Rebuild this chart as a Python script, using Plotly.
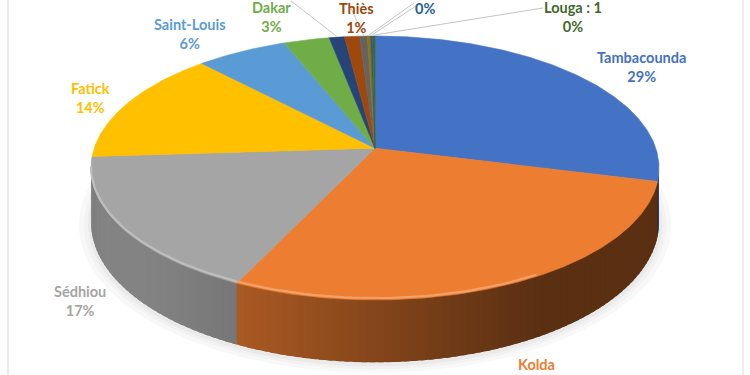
import numpy as np
import plotly.graph_objects as go

# ---------------- data ----------------
regions = ["Tambacounda", "Kolda", "Sédhiou", "Fatick", "Saint-Louis", "Dakar",
           "Ziguinchor", "Thiès", "Kaolack", "Kaffrine", "Matam", "Louga"]
label_names = ["Tambacounda", "Kolda", "Sédhiou", "Fatick", "Saint-Louis", "Dakar",
               "", "Thiès", "", "", "", "Louga : 1"]
shares = [29, 28, 17, 14, 6, 3, 1, 1, 0.5, 0.2, 0.15, 0.15]
colors = ["#4472C4", "#ED7D31", "#A5A5A5", "#FFC000", "#5B9BD5", "#70AD47",
          "#264478", "#9E480E", "#636363", "#997300", "#255E91", "#43682B"]

# label block centres (pixel layout); slices whose labels lie outside the picture have none
label_pos = {
    "Tambacounda": (641, 66.5), "Kolda": (536, 364), "Sédhiou": (80, 300.5),
    "Fatick": (90, 97.5), "Saint-Louis": (190, 33.5), "Dakar": (271, 17),
    "Thiès": (356, 18), "Matam": (425, 8), "Louga": (573, 17),
}
# which parts of each label are inside the picture
show_pct = {"Kolda": False}
# leader line start points (pixel layout)
leader_start = {
    "Ziguinchor": (291, 1), "Kaolack": (349, 4), "Kaffrine": (414, 3),
    "Matam": (416, 6), "Louga": (543, 8),
}

# ---------------- geometry (3-D tilted disc, perspective) ----------------
W, H = 750, 375
CX, CY, A, B, K, T = 375.0, 148.2, 280.8, 129.0, 0.15, 53.0


def proj(theta_deg, depth=0.0, da=0.0, db=0.0):
    th = np.radians(theta_deg)
    u, v = np.sin(th), np.cos(th)
    d = 1 + K * v
    x = CX + (A + da) * u / d
    y = CY - (B + db) * v / d + T * depth / d
    return x, y


def hex2rgb(h):
    h = h.lstrip("#")
    return tuple(int(h[i:i + 2], 16) for i in (0, 2, 4))


def shade(h, f):
    r, g, b = hex2rgb(h)
    return "rgb(%d,%d,%d)" % (min(255, r * f), min(255, g * f), min(255, b * f))


def lighten(h, f):
    r, g, b = hex2rgb(h)
    return "rgb(%d,%d,%d)" % (r + (255 - r) * f, g + (255 - g) * f, b + (255 - b) * f)


total = float(sum(shares))
cum = np.concatenate([[0], np.cumsum(shares)]) / total * 360.0
pcts = [int(round(s / total * 100)) for s in shares]

fig = go.Figure()

# soft drop shadow
for grow, col in [(12, "#f8f8f8"), (7, "#f2f2f2"), (3, "#eaeaea")]:
    th = np.linspace(0, 360, 361)
    x, y = proj(th, depth=1.0, da=grow, db=grow * 0.6)
    y = y + 2
    fig.add_trace(go.Scatter(x=x, y=y, fill="toself", mode="lines",
                             line=dict(width=0, color=col), fillcolor=col,
                             hoverinfo="skip", showlegend=False))

# front wall, shaded in overlapping strips
th_l = np.degrees(np.arccos(-K))          # right silhouette
th_r = 360 - th_l                          # left silhouette
for i, reg in enumerate(regions):
    a0, a1 = max(cum[i], th_l), min(cum[i + 1], th_r)
    if a1 <= a0:
        continue
    n = max(1, int(np.ceil((a1 - a0) / 1.5)))
    edges = np.linspace(a0, a1, n + 1)
    for j in range(n):
        s0, s1 = edges[j], min(edges[j + 1] + 0.9, th_r)
        ts = np.linspace(s0, s1, 5)
        xt, yt = proj(ts, depth=-0.02)
        xb, yb = proj(ts[::-1], depth=1.0)
        mid = 0.5 * (edges[j] + edges[j + 1])
        f = 0.38 + 0.42 * max(0.0, np.cos(np.radians(mid - 235))) ** 1.5
        c = shade(colors[i], f)
        fig.add_trace(go.Scatter(x=np.concatenate([xt, xb]), y=np.concatenate([yt, yb]),
                                 fill="toself", mode="lines", line=dict(width=0, color=c),
                                 fillcolor=c, hoverinfo="skip", showlegend=False))

# top face slices
for i, reg in enumerate(regions):
    ts = np.linspace(cum[i], cum[i + 1], max(3, int((cum[i + 1] - cum[i]) / 0.5) + 2))
    x, y = proj(ts)
    fig.add_trace(go.Scatter(x=np.concatenate([[CX], x, [CX]]),
                             y=np.concatenate([[CY], y, [CY]]),
                             fill="toself", mode="lines",
                             line=dict(width=0.6, color=colors[i]), fillcolor=colors[i],
                             name=reg, hoverinfo="skip", showlegend=False))

# bevel highlight along the front rim
for i, reg in enumerate(regions):
    a0, a1 = max(cum[i], 150), min(cum[i + 1], th_r)
    if a1 <= a0:
        continue
    ts = np.linspace(a0, a1, 40)
    x, y = proj(ts, depth=-0.03)
    fig.add_trace(go.Scatter(x=x, y=y, mode="lines",
                             line=dict(width=2.2, color=lighten(colors[i], 0.28)),
                             hoverinfo="skip", showlegend=False))

# leader lines
for reg, (sx, sy) in leader_start.items():
    i = regions.index(reg)
    mid = 0.5 * (cum[i] + cum[i + 1])
    ex, ey = proj(mid, depth=-0.02)
    fig.add_trace(go.Scatter(x=[sx, ex], y=[sy, ey], mode="lines",
                             line=dict(width=1, color="#c4c4c4"),
                             hoverinfo="skip", showlegend=False))

# data labels
for i, reg in enumerate(regions):
    if reg not in label_pos:
        continue
    lx, ly = label_pos[reg]
    parts = []
    if label_names[i]:
        parts.append(label_names[i])
    if show_pct.get(reg, True):
        parts.append("%d%%" % pcts[i])
    fig.add_annotation(x=lx, y=ly, xref="x", yref="y", showarrow=False,
                       text="<br>".join(parts),
                       font=dict(family="Lato", size=14.5, color=colors[i], weight="bold"),
                       align="center", xanchor="center", yanchor="middle")

# chart-area border
fig.add_shape(type="rect", x0=8, x1=743, y0=-10, y1=390, xref="x", yref="y",
              line=dict(color="#d9d9d9", width=1), layer="below")

fig.update_layout(
    width=W, height=H, margin=dict(l=0, r=0, t=0, b=0),
    paper_bgcolor="white", plot_bgcolor="white", showlegend=False,
    xaxis=dict(range=[0, W], visible=False, fixedrange=True),
    yaxis=dict(range=[H, 0], visible=False, fixedrange=True),
)

fig.write_html("out.html")
